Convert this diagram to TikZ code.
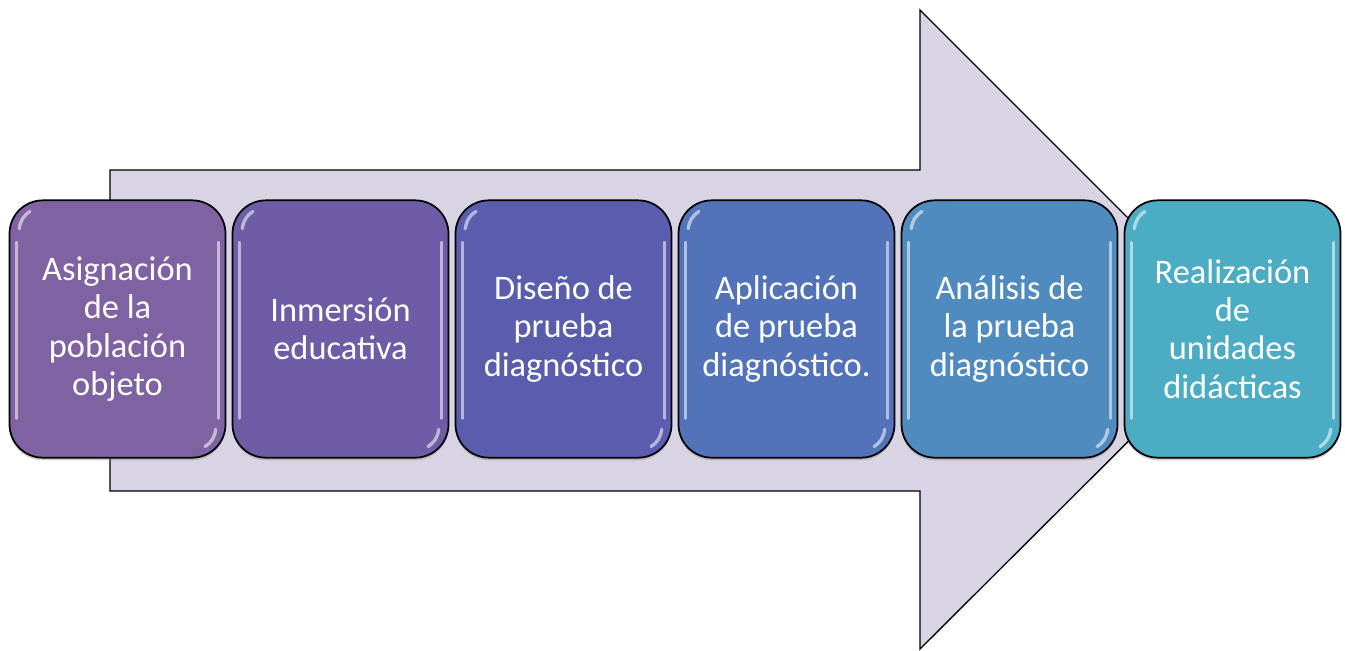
\documentclass[tikz,border=0pt]{standalone}
\usepackage{fontspec}
\setmainfont{Carlito}
\usetikzlibrary{shadows}
\definecolor{arrowfill}{HTML}{D8D4E4}
\definecolor{cA}{HTML}{7E62A1}
\definecolor{cB}{HTML}{6D5CA6}
\definecolor{cC}{HTML}{5A5DAD}
\definecolor{cD}{HTML}{5273B9}
\definecolor{cE}{HTML}{4F8BBF}
\definecolor{cF}{HTML}{4BACC4}
\tikzset{
  stepbox/.style={draw=black, line width=1.3pt, rounded corners=25pt,
    minimum width=162pt, minimum height=193pt, inner sep=0pt,
    text=white, align=center, font=\fontsize{25.8}{28.7}\selectfont,
    drop shadow={opacity=0.35, shadow xshift=0pt, shadow yshift=-2pt}},
  shine/.style={white, opacity=0.55, line width=2pt, line cap=round},
  bigarrow/.style={draw=black, line width=1pt, fill=arrowfill}
}
\begin{document}
\begin{tikzpicture}[x=0.75pt,y=-0.75pt]
\useasboundingbox (0,0) rectangle (1345,650);
\fill[white] (0,0) rectangle (1345,650);
\draw[bigarrow] (110,170) -- (920,170) -- (920,10) -- (1240,330) -- (920,649) -- (920,491) -- (110,491) -- cycle;
\foreach \n/\cx/\col/\txt in {
  b1/117.5/cA/{Asignación\\de la\\población\\objeto},
  b2/340.5/cB/{Inmersión\\educativa},
  b3/563.5/cC/{Diseño de\\prueba\\diagnóstico},
  b4/786.5/cD/{Aplicación\\de prueba\\diagnóstico.},
  b5/1009.5/cE/{Análisis de\\la prueba\\diagnóstico},
  b6/1232.5/cF/{Realización\\de\\unidades\\didácticas}}{
  \node[stepbox, fill=\col] (\n) at (\cx,329) {\txt};
  \draw[shine] ([xshift=6pt,yshift=-32pt]\n.north west) -- ([xshift=6pt,yshift=30pt]\n.south west);
  \draw[shine] ([xshift=-6pt,yshift=-32pt]\n.north east) -- ([xshift=-6pt,yshift=30pt]\n.south east);
  \draw[shine, line width=2.5pt] ([xshift=8pt,yshift=-22pt]\n.north west) to[bend left=25] ([xshift=16pt,yshift=-9pt]\n.north west);
  \draw[shine, line width=2.5pt] ([xshift=-8pt,yshift=22pt]\n.south east) to[bend left=25] ([xshift=-16pt,yshift=9pt]\n.south east);
}
\end{tikzpicture}
\end{document}
